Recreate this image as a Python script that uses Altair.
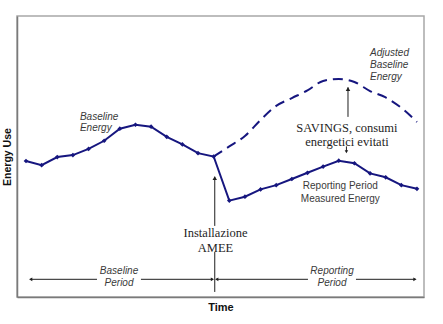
import altair as alt
import pandas as pd

# ---- data (arbitrary energy units, time index) ----
baseline_period = list(range(0, 13))
baseline_energy = [48.4, 46.9, 49.8, 50.5, 52.7, 55.6, 59.9, 61.3, 60.6, 57.0, 54.3, 51.2, 50.0]
reporting_period = list(range(13, 26))
reporting_energy = [34.3, 35.7, 38.3, 39.8, 42.0, 44.2, 46.4, 48.5, 47.6, 44.0, 42.6, 39.8, 38.5]
adjusted_period = list(range(12, 26))
adjusted_energy = [50.0, 53.6, 57.3, 63.0, 68.0, 70.8, 73.5, 76.9, 77.6, 76.5, 73.3, 71.0, 67.3, 62.3]

NAVY = "#16167f"
INK = "#1e1e1e"
GREY_TXT = "#3a3a3a"

measured = pd.DataFrame({
    "t": baseline_period + reporting_period,
    "e": baseline_energy + reporting_energy,
})
adjusted = pd.DataFrame({"t": adjusted_period, "e": adjusted_energy})

xs = alt.Scale(domain=[-0.575, 25.45], nice=False, zero=False)
ys = alt.Scale(domain=[0, 100], nice=False, zero=False)

# annotation tables
italic_labels = pd.DataFrame({
    "t": [3.45, 3.45, 22.0, 22.0, 22.0],
    "e": [64.1, 60.0, 86.8, 82.6, 78.3],
    "txt": ["Baseline", "Energy", "Adjusted", "Baseline", "Energy"],
})
italic_period = pd.DataFrame({
    "t": [5.95, 5.95, 19.57, 19.57],
    "e": [9.25, 5.16, 9.25, 5.16],
    "txt": ["Baseline", "Period", "Reporting", "Period"],
})
sans_labels = pd.DataFrame({
    "t": [20.1, 20.1],
    "e": [39.5, 35.05],
    "txt": ["Reporting Period", "Measured Energy"],
})
serif_labels = pd.DataFrame({
    "t": [20.52, 20.52, 12.12, 12.12],
    "e": [60.1, 55.2, 22.6, 17.4],
    "txt": ["SAVINGS, consumi", "energetici evitati", "Installazione", "AMEE"],
})
vrules = pd.DataFrame({
    "t": [12.07, 12.07, 20.59, 20.49],
    "e": [25.3, 16.0, 64.1, 53.6],
    "e2": [42.8, 1.8, 74.6, 51.6],
})
hrules = pd.DataFrame({
    "t": [0.3, 7.35, 12.15, 21.1],
    "t2": [4.54, 11.95, 18.03, 24.9],
    "e": [6.3, 6.3, 6.3, 6.3],
})
heads_up = pd.DataFrame({"t": [12.07, 20.59], "e": [42.3, 74.0]})
heads_down = pd.DataFrame({"t": [20.49], "e": [51.7]})
heads_left = pd.DataFrame({"t": [0.3, 12.2], "e": [6.3, 6.3]})
heads_right = pd.DataFrame({"t": [11.92, 24.87], "e": [6.3, 6.3]})

base_axis_x = alt.Axis(title="Time", labels=False, ticks=False, grid=False,
                       domainColor="#7a7a7a", domainWidth=1.5,
                       titleFont="Liberation Sans", titleFontSize=11,
                       titleFontWeight="bold", titleColor="#111", titlePadding=4)
base_axis_y = alt.Axis(title="Energy Use", labels=False, ticks=False, grid=False,
                       domainColor="#7a7a7a", domainWidth=1.5,
                       titleFont="Liberation Sans", titleFontSize=10.5,
                       titleFontWeight="bold", titleColor="#111", titlePadding=5)

X = alt.X("t:Q", scale=xs, axis=base_axis_x, title="Time")
Y = alt.Y("e:Q", scale=ys, axis=base_axis_y, title="Energy Use")

line_adjusted = alt.Chart(adjusted).mark_line(
    color=NAVY, strokeWidth=2, strokeDash=[10, 6], interpolate="monotone"
).encode(x=X, y=Y)

line_measured = alt.Chart(measured).mark_line(
    color=NAVY, strokeWidth=2,
    point=alt.OverlayMarkDef(shape="diamond", size=22, filled=True, color=NAVY),
).encode(x=X, y=Y)

def texts(df, **kw):
    return alt.Chart(df).mark_text(**kw).encode(x=X, y=Y, text="txt:N")

t_italic = texts(italic_labels, font="Liberation Sans", fontSize=10, fontStyle="italic",
                 color=GREY_TXT, align="left", baseline="middle")
t_period = texts(italic_period, font="Liberation Sans", fontSize=10, fontStyle="italic",
                 color=GREY_TXT, align="center", baseline="middle")
t_sans = texts(sans_labels, font="Liberation Sans", fontSize=10,
               color=GREY_TXT, align="center", baseline="middle")
t_serif = texts(serif_labels, font="Liberation Serif", fontSize=12.5,
                color=INK, align="center", baseline="middle")

r_v = alt.Chart(vrules).mark_rule(color=INK, strokeWidth=1).encode(x=X, y=Y, y2="e2:Q")
r_h = alt.Chart(hrules).mark_rule(color=INK, strokeWidth=1).encode(x=X, x2="t2:Q", y=Y)

def heads(df, shape, size=20):
    return alt.Chart(df).mark_point(shape=shape, size=size, filled=True,
                                     color=INK, opacity=1).encode(x=X, y=Y)

chart = alt.layer(
    line_adjusted, line_measured,
    r_v, r_h,
    heads(heads_up, "triangle-up"), heads(heads_down, "triangle-down", 12),
    heads(heads_left, "triangle-left", 14), heads(heads_right, "triangle-right", 14),
    t_italic, t_period, t_sans, t_serif,
).properties(
    width=407, height=281,
    autosize=alt.AutoSizeParams(type="none"),
    padding={"left": 17, "top": 16, "right": 19, "bottom": 27},
    background="white",
).configure_view(stroke="#a8a8a8", strokeWidth=1.5)

chart.save("out.html", embed_options={"renderer": "svg", "actions": False})
